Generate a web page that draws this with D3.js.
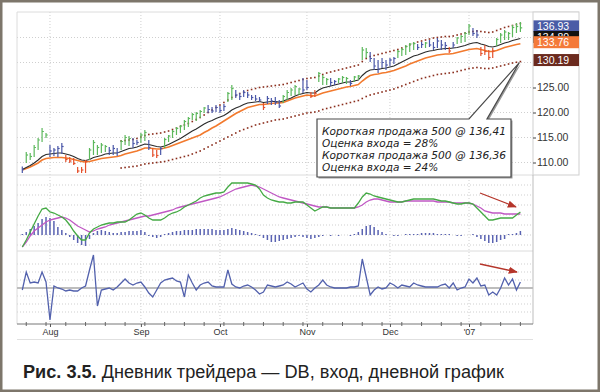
<!DOCTYPE html>
<html><head><meta charset="utf-8">
<script src="https://cdn.jsdelivr.net/npm/d3@7"></script>
<style>body{margin:0;background:#fff}svg{display:block}</style>
</head><body>
<svg id="c" width="600" height="392"></svg>
<script>
// ---------- DATA (trading-day index 0..126, Jul 21 2006 .. Jan 23 2007) ----------
const monthIdx = [7, 30, 50, 72, 93, 113];
const monthLabels = ["Aug", "Sep", "Oct", "Nov", "Dec", "'07"];
const priceTicks = [110, 115, 120, 125, 130, 135];
const priceTickLabels = [110, 115, 120, 125];

const lows = [107.9,109.9,110.5,111.1,112.5,114.1,114.9,111.1,111.3,111.1,
111.7,110.1,109.9,109.5,107.9,107.9,107.9,110.5,111.5,111.5,
111.9,112.1,111.5,111.5,111.3,112.5,113.5,113.3,112.9,113.5,
113.9,114.3,112.5,111.1,110.9,111.5,112.9,114.1,114.9,115.5,
115.9,116.5,117.1,118.5,118.3,118.9,119.9,119.9,119.9,120.1,
119.9,120.3,122.1,122.5,122.9,122.5,123.1,122.9,122.5,122.3,
122.1,120.5,121.7,121.5,121.5,120.9,121.9,122.5,123.3,123.5,
123.5,123.9,124.5,122.9,123.1,126.1,125.5,125.5,125.3,125.5,
125.9,125.9,125.7,125.3,126.1,126.5,130.5,130.9,130.1,128.5,
127.9,128.9,128.5,129.3,129.7,130.9,131.3,131.5,132.1,132.5,
132.5,132.9,132.9,133.1,132.5,132.9,132.5,132.5,131.9,132.9,
133.7,133.9,134.1,135.5,135.3,134.9,131.3,131.5,130.5,130.9,
133.3,133.9,134.5,134.5,135.1,135.9,136.1];
const highs = [109.2,112.1,111.9,113.5,114.9,116.9,115.9,113.5,112.9,113.3,
113.9,111.5,111.1,110.9,109.1,109.1,110.5,112.9,114.5,113.5,
113.9,113.5,113.1,113.5,112.9,114.5,115.5,115.3,114.9,114.5,
115.9,116.5,114.5,112.9,112.5,113.1,114.9,115.5,116.5,117.1,
117.5,118.5,119.1,119.9,120.1,120.5,121.1,121.5,121.1,121.5,
121.3,121.7,124.1,125.5,124.5,123.9,124.5,124.1,123.5,123.5,
123.1,121.9,123.3,122.9,123.1,122.5,123.5,124.5,124.9,125.5,
124.9,126.9,126.5,124.1,124.5,128.1,127.5,126.9,126.9,126.5,
126.9,127.3,127.1,126.5,127.3,127.5,133.1,132.9,132.1,130.9,
130.5,130.9,130.5,130.9,131.1,132.5,132.9,133.5,133.9,134.1,
133.7,134.1,134.1,134.5,134.1,134.9,134.5,134.1,133.1,134.1,
135.1,135.5,136.1,137.7,136.9,136.5,133.1,133.5,132.5,132.9,
134.9,135.9,136.5,136.1,137.5,137.9,138.1];
const closes = [108.6,111.5,111.2,113.0,114.5,116.2,115.5,112.3,112.5,112.8,
113.2,110.6,110.3,109.8,108.3,108.5,110.2,112.5,114.0,113.0,
113.5,113.2,112.4,112.8,112.0,114.2,115.0,114.8,113.8,114.0,
115.5,116.0,113.0,111.5,111.4,112.8,114.6,115.3,116.2,116.8,
117.3,118.2,118.8,119.6,119.8,120.2,120.9,120.6,120.3,121.0,
120.4,121.2,123.8,124.8,123.5,123.2,124.0,123.5,123.0,122.7,
122.5,121.0,122.8,122.3,122.0,121.3,123.2,124.0,124.5,125.2,
124.7,124.5,125.0,123.2,123.8,127.8,127.0,126.6,126.0,126.2,
126.7,127.0,126.8,125.8,127.1,127.3,132.5,132.0,130.8,129.3,
128.7,130.0,129.5,130.5,130.8,132.2,132.6,133.2,133.7,133.8,
133.0,133.6,133.9,133.5,133.0,134.3,133.5,133.4,132.3,133.5,
134.9,135.2,135.8,137.3,135.8,135.5,131.8,132.2,131.0,132.3,
134.6,135.5,136.1,135.8,137.0,137.2,136.93];
// impulse system colour of each bar: G = up, B = neutral, R = down
const impulse = ("B GGGGGG BBBB RRRRRR GGGGG BBB GGG BB GG B RR B GGGGGGGGGGG BBBBB GG BBBBBBB R BBBB " +
  "GGGGG BB RR GGG BB GGG B GGGG BBBBBBB GGGGG BB G BBBBB R B GGGG BB RRRR GGGGGGG").replace(/ /g, "");

const emaFast = [108.6,109.0,109.4,109.9,110.5,111.2,111.6,111.7,111.8,111.9,
111.9,111.7,111.5,111.2,110.8,110.5,110.4,110.6,111.0,111.2,
111.4,111.7,111.8,111.9,111.9,112.2,112.5,112.8,112.9,113.1,
113.4,113.7,113.6,113.4,113.2,113.1,113.3,113.6,114.0,114.4,
114.8,115.3,115.8,116.3,116.7,117.2,117.7,118.1,118.4,118.8,
119.1,119.4,119.9,120.5,120.9,121.2,121.6,121.9,122.0,122.1,
122.2,122.0,122.1,122.2,122.2,122.1,122.3,122.6,122.9,123.3,
123.6,123.8,124.0,123.9,123.9,124.5,124.9,125.1,125.3,125.5,
125.7,125.9,126.1,126.1,126.3,126.5,127.4,128.1,128.5,128.6,
128.6,128.8,128.9,129.1,129.3,129.7,130.1,130.5,130.9,131.3,
131.5,131.8,132.1,132.3,132.4,132.6,132.7,132.8,132.8,132.9,
133.0,133.2,133.4,133.7,133.9,134.0,133.7,133.5,133.2,133.1,
133.3,133.6,133.9,134.1,134.4,134.6,134.8];
const emaSlow = [108.5,108.8,109.1,109.5,109.9,110.5,110.8,110.9,111.0,111.0,
111.0,110.9,110.8,110.6,110.4,110.2,110.1,110.2,110.4,110.6,
110.8,110.9,111.0,111.1,111.2,111.4,111.7,111.9,112.1,112.3,
112.6,112.9,112.9,112.8,112.7,112.7,112.9,113.1,113.4,113.7,
114.0,114.3,114.6,114.9,115.2,115.5,116.0,116.4,116.9,117.3,
117.8,118.3,118.8,119.3,119.8,120.2,120.6,121.0,121.2,121.4,
121.6,121.6,121.7,121.8,121.9,121.9,122.0,122.3,122.6,122.9,
123.1,123.3,123.5,123.4,123.3,123.6,123.9,124.1,124.3,124.5,
124.7,124.9,125.1,125.2,125.4,125.6,126.3,126.9,127.4,127.6,
127.7,127.9,128.0,128.2,128.4,128.7,129.0,129.3,129.7,130.0,
130.3,130.6,130.9,131.1,131.3,131.5,131.6,131.7,131.7,131.8,
132.0,132.2,132.4,132.6,132.7,132.8,132.6,132.4,132.2,132.2,
132.4,132.7,133.0,133.2,133.4,133.6,133.76];
// envelope channel (starts at bar 25)
const channelUpper = Array(25).fill(null).concat([
114.3,114.4,114.5,114.6,114.8,115.1,115.4,115.6,115.7,115.8,
115.9,116.1,116.3,116.6,116.9,117.2,117.5,117.8,118.2,118.6,
119.0,119.5,120.0,120.5,121.0,121.5,122.0,122.5,123.0,123.4,
123.8,124.1,124.4,124.6,124.8,125.0,125.1,125.2,125.3,125.4,
125.5,125.6,125.8,126.0,126.2,126.4,126.6,126.8,126.9,127.0,
127.3,127.6,127.9,128.1,128.3,128.5,128.7,128.9,129.1,129.3,
129.5,130.2,130.8,131.2,131.4,131.6,131.8,132.0,132.2,132.4,
132.6,132.9,133.2,133.5,133.8,134.1,134.3,134.5,134.7,134.9,
135.0,135.1,135.2,135.2,135.3,135.5,135.7,135.9,136.1,136.2,
136.3,136.2,136.1,136.0,136.1,136.4,136.7,137.0,137.2,137.4,
137.6,137.8]);
const channelLower = Array(25).fill(null).concat([
108.9,109.0,109.1,109.2,109.3,109.5,109.7,109.8,109.9,110.0,
110.1,110.2,110.4,110.6,110.8,111.0,111.2,111.4,111.7,112.0,
112.3,112.7,113.1,113.5,113.9,114.3,114.7,115.1,115.5,115.9,
116.3,116.6,116.9,117.2,117.5,117.7,117.9,118.1,118.3,118.5,
118.6,118.7,118.9,119.1,119.3,119.5,119.7,119.9,120.0,120.1,
120.3,120.6,120.8,121.0,121.2,121.4,121.6,121.8,122.0,122.2,
122.4,122.8,123.2,123.5,123.7,123.9,124.1,124.3,124.5,124.7,
125.0,125.3,125.6,125.9,126.2,126.5,126.8,127.0,127.2,127.4,
127.6,127.7,127.8,127.9,128.0,128.2,128.4,128.6,128.8,128.9,
129.0,128.9,128.8,128.8,128.9,129.1,129.3,129.5,129.7,129.9,
130.05,130.19]);

const macdLine = [-0.60,-0.25,0.15,0.55,0.95,1.30,1.35,1.15,1.10,1.00,
0.90,0.75,0.50,0.20,-0.05,-0.25,-0.25,0.10,0.30,0.40,
0.50,0.55,0.60,0.60,0.65,0.65,0.65,0.75,0.90,1.05,
1.10,1.00,0.85,0.75,0.75,0.75,0.85,1.00,1.10,1.15,
1.25,1.40,1.50,1.60,1.70,1.85,1.95,2.00,2.05,2.10,
2.10,2.15,2.40,2.60,2.60,2.60,2.60,2.60,2.55,2.50,
2.30,2.00,1.85,1.75,1.70,1.65,1.65,1.60,1.60,1.65,
1.65,1.65,1.50,1.35,1.20,1.30,1.40,1.40,1.35,1.35,
1.35,1.35,1.35,1.35,1.35,1.60,1.90,2.10,2.05,1.95,
1.90,1.85,1.80,1.75,1.70,1.65,1.65,1.70,1.75,1.80,
1.80,1.80,1.80,1.80,1.80,1.75,1.70,1.70,1.65,1.60,
1.55,1.55,1.60,1.60,1.55,1.35,1.15,0.95,0.75,0.75,
0.80,0.85,0.85,0.85,0.85,1.00,1.15];
const macdSignal = [-0.60,-0.35,-0.05,0.20,0.35,0.50,0.65,0.75,0.80,0.85,
0.90,0.85,0.75,0.60,0.45,0.35,0.25,0.15,0.20,0.30,
0.35,0.40,0.50,0.55,0.60,0.65,0.70,0.75,0.80,0.85,
0.90,0.95,0.95,1.00,1.05,1.10,1.15,1.20,1.25,1.35,
1.40,1.45,1.50,1.55,1.60,1.65,1.70,1.75,1.80,1.85,
1.90,2.00,2.10,2.20,2.30,2.35,2.40,2.45,2.50,2.45,
2.40,2.30,2.20,2.10,2.00,1.90,1.85,1.80,1.75,1.70,
1.65,1.60,1.55,1.50,1.45,1.40,1.40,1.40,1.35,1.35,
1.35,1.35,1.35,1.35,1.35,1.40,1.50,1.65,1.75,1.80,
1.80,1.75,1.70,1.65,1.65,1.65,1.65,1.70,1.70,1.70,
1.70,1.70,1.70,1.70,1.70,1.65,1.65,1.65,1.65,1.60,
1.60,1.60,1.60,1.60,1.55,1.45,1.35,1.20,1.15,1.10,
1.10,1.10,1.05,1.05,1.05,1.05,1.05];
const macdHist = [0.05,0.15,0.30,0.45,0.60,0.80,0.90,0.85,0.70,0.40,
0.25,0.10,-0.10,-0.25,-0.40,-0.50,-0.55,-0.20,0.10,0.20,
0.25,0.20,0.15,0.10,0.10,0.15,0.15,0.20,0.20,0.20,
0.25,0.15,-0.05,-0.10,-0.15,-0.10,0.05,0.10,0.15,0.20,
0.20,0.25,0.25,0.25,0.30,0.30,0.30,0.30,0.30,0.25,
0.25,0.25,0.30,0.35,0.30,0.25,0.20,0.15,0.10,0.05,
-0.05,-0.15,-0.25,-0.35,-0.35,-0.30,-0.25,-0.20,-0.15,-0.10,
-0.05,-0.10,-0.15,-0.20,-0.15,-0.10,-0.05,0.00,-0.05,0.00,
-0.05,0.00,0.00,-0.05,0.05,0.15,0.30,0.45,0.50,0.40,
0.25,0.15,0.05,0.00,-0.05,-0.05,0.00,0.05,0.05,0.05,
0.05,0.10,0.10,0.10,0.10,0.05,0.05,0.05,0.05,0.00,
-0.05,-0.05,0.00,0.00,0.05,-0.10,-0.20,-0.30,-0.40,-0.40,
-0.35,-0.25,-0.20,0.05,0.05,0.10,0.20];
const forceIndex = [-0.5,4,1.25,1.5,1.25,4,1.5,-8,0.5,0,
-0.25,-0.75,-0.5,-0.75,-0.75,0,0.5,4.5,8.25,-4.5,
-0.5,-0.25,0,-0.5,0.25,1.25,2.25,1.25,0.75,1.25,
1.5,0.25,-1.25,-2.25,-0.5,1.25,2,2.25,2.5,1.75,
1.5,-2.25,3.25,1.25,-0.5,0.75,1.25,1.5,0.5,0.25,
0.25,0.25,4.5,1,0.25,0,0.5,0.75,0.25,-0.5,
-1.5,-1,0.75,0.5,0.25,0.5,0.75,1.5,1,0.25,
0.75,1.25,-0.25,-1,0,0.75,2,0.75,0.25,0,
0,0,0,0.25,0.25,0.5,7.25,2.75,-1.75,-0.5,
0.25,-0.25,0,1.25,0.75,0,0.75,0.5,0.25,1.25,
0.75,0.5,0.25,0.25,0.25,0.25,0.75,1,0,1.25,
-0.5,0,0.25,2.25,1.25,2.5,0.5,0.75,-1.75,-1,
-1.75,0,2.5,0.75,2.25,-0.5,1.5];

const lastValues = [136.93, 134.80, 133.76, 130.19];
const noteLines = ["Короткая продажа 500 @ 136,41", "Оценка входа = 28%",
                   "Короткая продажа 500 @ 136,36", "Оценка входа = 24%"];

// ---------- DRAWING ----------
const svg = d3.select("#c");
const W = 600, H = 392;
const L = 17, R = 533;
const P1 = [12, 175], P2 = [176, 251], P3 = [252, 322];

const x = d3.scaleLinear().domain([0, 126]).range([22.3, 520.4]);
const yP = d3.scaleLinear().domain([110, 135]).range([162.5, 37.5]);
const yM = d3.scaleLinear().domain([0, 2]).range([235, 195]);
const yF = d3.scaleLinear().domain([0, 2]).range([288, 280]);

svg.append("rect").attr("width", W).attr("height", H).attr("fill", "#fff");

const defs = svg.append("defs");
[["c1", P1], ["c2", P2], ["c3", P3]].forEach(([id, p]) => {
  defs.append("clipPath").attr("id", id).append("rect")
    .attr("x", L).attr("y", p[0]).attr("width", R - L).attr("height", p[1] - p[0]);
});
defs.append("marker").attr("id", "ah").attr("viewBox", "0 0 10 10")
  .attr("refX", 9).attr("refY", 5).attr("markerWidth", 7).attr("markerHeight", 7)
  .attr("orient", "auto").append("path").attr("d", "M0,1 L10,5 L0,9 Z").attr("fill", "#b5352a");

const grid = svg.append("g").attr("stroke", "#cfcfcf").attr("stroke-dasharray", "1,2").attr("stroke-width", 1);
priceTicks.forEach(t => grid.append("line").attr("x1", L).attr("x2", R).attr("y1", yP(t)).attr("y2", yP(t)));
[-0.5, 0, 0.5, 1, 1.5, 2, 2.5].forEach(t => grid.append("line").attr("x1", L).attr("x2", R).attr("y1", yM(t)).attr("y2", yM(t)));
[-6, -4, -2, 2, 4, 6].forEach(t => grid.append("line").attr("x1", L).attr("x2", R).attr("y1", yF(t)).attr("y2", yF(t)));
monthIdx.forEach(m => grid.append("line").attr("x1", x(m)).attr("x2", x(m)).attr("y1", P1[0]).attr("y2", P3[1]));

// panel frames
const fr = svg.append("g").attr("fill", "none").attr("stroke", "#dcdcdc");
fr.append("line").attr("x1", L).attr("x2", 579).attr("y1", P1[0]).attr("y2", P1[0]);
fr.append("line").attr("x1", L).attr("x2", L).attr("y1", P1[0]).attr("y2", 324);
fr.append("line").attr("x1", L).attr("x2", R).attr("y1", P1[1]).attr("y2", P1[1]);
fr.append("line").attr("x1", L).attr("x2", R).attr("y1", P2[1]).attr("y2", P2[1]);
svg.append("rect").attr("x", R).attr("y", P1[0]).attr("width", 46).attr("height", P1[1] - P1[0])
  .attr("fill", "#fff").attr("stroke", "#cfcfcf");
svg.append("line").attr("x1", R).attr("x2", R).attr("y1", P1[1]).attr("y2", 324).attr("stroke", "#bdbdbd");

// ---- price panel ----
const g1 = svg.append("g").attr("clip-path", "url(#c1)");
const chanG = g1.append("g").attr("fill", "#8a2d1c");
[channelUpper, channelLower].forEach(arr => {
  arr.forEach((v, i) => { if (v != null) chanG.append("rect").attr("x", x(i) - 0.8).attr("y", yP(v) - 0.8).attr("width", 1.6).attr("height", 1.6); });
});
const line = (ys) => d3.line().x((d, i) => x(i)).y(d => ys(d));
g1.append("path").datum(emaSlow).attr("d", line(yP)).attr("fill", "none").attr("stroke", "#f27a2e").attr("stroke-width", 1.6);
g1.append("path").datum(emaFast).attr("d", line(yP)).attr("fill", "none").attr("stroke", "#2a2a2a").attr("stroke-width", 1.1);
const barCol = { G: "#5cb85c", B: "#4a57a8", R: "#e5512c" };
const bars = g1.append("g");
closes.forEach((c, i) => {
  const col = barCol[impulse[i]];
  bars.append("line").attr("x1", x(i)).attr("x2", x(i)).attr("y1", yP(lows[i])).attr("y2", yP(highs[i]))
    .attr("stroke", col).attr("stroke-width", 1.2);
  bars.append("line").attr("x1", x(i)).attr("x2", x(i) + 1.8).attr("y1", yP(c)).attr("y2", yP(c))
    .attr("stroke", col).attr("stroke-width", 1.2);
});

// right price axis (tick marks at every level, labels where the reference shows them)
const ax = svg.append("g").attr("transform", `translate(${R},0)`)
  .call(d3.axisRight(yP).tickValues(priceTickLabels).tickFormat(d3.format(".2f")).tickSize(3).tickPadding(1));
ax.select(".domain").remove();
ax.selectAll("line").attr("stroke", "#444");
ax.selectAll("text").attr("font-family", "Liberation Sans, Arial, sans-serif").attr("font-size", 10.5).attr("fill", "#333");

const boxCols = ["#4a5ca6", "#111111", "#f47a3a", "#6b2a1e"];
lastValues.forEach((v, k) => {
  const cy = yP(v) - 1.5;
  svg.append("rect").attr("x", R + 0.5).attr("y", cy - 6).attr("width", 45.5).attr("height", 12).attr("fill", boxCols[k]);
  const clipId = "lb" + k;
  const next = lastValues[k + 1];
  const visBottom = (k === 1 && next != null) ? yP(next) - 7.5 : cy + 6;
  defs.append("clipPath").attr("id", clipId).append("rect")
    .attr("x", R).attr("y", cy - 6).attr("width", 46).attr("height", Math.max(1, visBottom - (cy - 6)));
  svg.append("text").attr("x", R + 4).attr("y", cy + 4).text(v.toFixed(2))
    .attr("clip-path", `url(#${clipId})`)
    .attr("font-family", "Liberation Sans, Arial, sans-serif").attr("font-size", 10.5).attr("fill", "#fff");
});

// ---- MACD panel ----
const g2 = svg.append("g").attr("clip-path", "url(#c2)");
macdHist.forEach((v, i) => {
  g2.append("line").attr("x1", x(i)).attr("x2", x(i)).attr("y1", yM(0)).attr("y2", yM(v))
    .attr("stroke", "#5a63b2").attr("stroke-width", 1.5);
});
g2.append("path").datum(macdSignal).attr("d", line(yM)).attr("fill", "none").attr("stroke", "#c058c4").attr("stroke-width", 1.3);
g2.append("path").datum(macdLine).attr("d", line(yM)).attr("fill", "none").attr("stroke", "#45aa45").attr("stroke-width", 1.3);

// ---- Force index panel ----
const g3 = svg.append("g").attr("clip-path", "url(#c3)");
g3.append("line").attr("x1", L).attr("x2", R).attr("y1", yF(0)).attr("y2", yF(0)).attr("stroke", "#bdbdbd").attr("stroke-width", 2);
g3.append("path").datum(forceIndex).attr("d", line(yF)).attr("fill", "none").attr("stroke", "#5261ad").attr("stroke-width", 1.3);

// arrows
svg.append("line").attr("x1", 480).attr("y1", 193).attr("x2", 516).attr("y2", 207)
  .attr("stroke", "#b5352a").attr("stroke-width", 1.3).attr("marker-end", "url(#ah)");
svg.append("line").attr("x1", 480).attr("y1", 264).attr("x2", 517).attr("y2", 272)
  .attr("stroke", "#b5352a").attr("stroke-width", 1.3).attr("marker-end", "url(#ah)");

// ---- x axis ----
const xa = svg.append("g").attr("transform", "translate(0,324)")
  .call(d3.axisBottom(x).tickValues(monthIdx).tickFormat((d, i) => monthLabels[i]).tickSize(3).tickPadding(2));
xa.select(".domain").attr("d", `M${L},0H${R}`).attr("stroke", "#777");
xa.selectAll("line").attr("stroke", "#555");
xa.selectAll("text").attr("font-family", "Liberation Sans, Arial, sans-serif").attr("font-size", 9).attr("fill", "#333");
const minor = svg.append("g").attr("stroke", "#666");
d3.range(1, 127, 5).forEach(i => minor.append("line").attr("x1", x(i)).attr("x2", x(i)).attr("y1", 322).attr("y2", 326));
svg.append("line").attr("x1", L).attr("x2", R).attr("y1", 339.5).attr("y2", 339.5).attr("stroke", "#e0e0e0");

// ---- annotation callout ----
const bx0 = 317, bx1 = 511, by0 = 119, by1 = 177, tip = [x(126) - 1, yP(channelLower[126]) + 1];
const callout = `M${bx0},${by0} H469 L${tip[0]},${tip[1]} L487,${by0} H${bx1} V${by1} H${bx0} Z`;
svg.append("path").attr("d", callout).attr("transform", "translate(1.5,1.5)").attr("fill", "#9a9a9a");
svg.append("path").attr("d", callout).attr("fill", "#fff").attr("stroke", "#4a4a4a").attr("stroke-width", 1.2);
noteLines.forEach((t, k) => {
  const tx = svg.append("text").attr("x", 322).attr("y", 134.5 + k * 12.2).text(t)
    .attr("font-family", "DejaVu Sans, sans-serif").attr("font-style", "italic")
    .attr("font-size", 10.5).attr("fill", "#222");
  if (k % 2 === 0) tx.attr("textLength", 184).attr("lengthAdjust", "spacingAndGlyphs");
});

// ---- caption ----
const cap = svg.append("text").attr("x", 23).attr("y", 378)
  .attr("textLength", 481).attr("lengthAdjust", "spacingAndGlyphs")
  .attr("font-family", "Liberation Sans, Arial, sans-serif").attr("font-size", 17.5).attr("fill", "#222");
cap.append("tspan").attr("font-weight", "bold").text("Рис. 3.5.");
cap.append("tspan").text(" Дневник трейдера — DB, вход, дневной график");

// outer frame
svg.append("rect").attr("x", 1.25).attr("y", 1.25).attr("width", W - 2.5).attr("height", H - 2.5)
  .attr("fill", "none").attr("stroke", "#7d766b").attr("stroke-width", 2.5);
</script>
</body></html>
